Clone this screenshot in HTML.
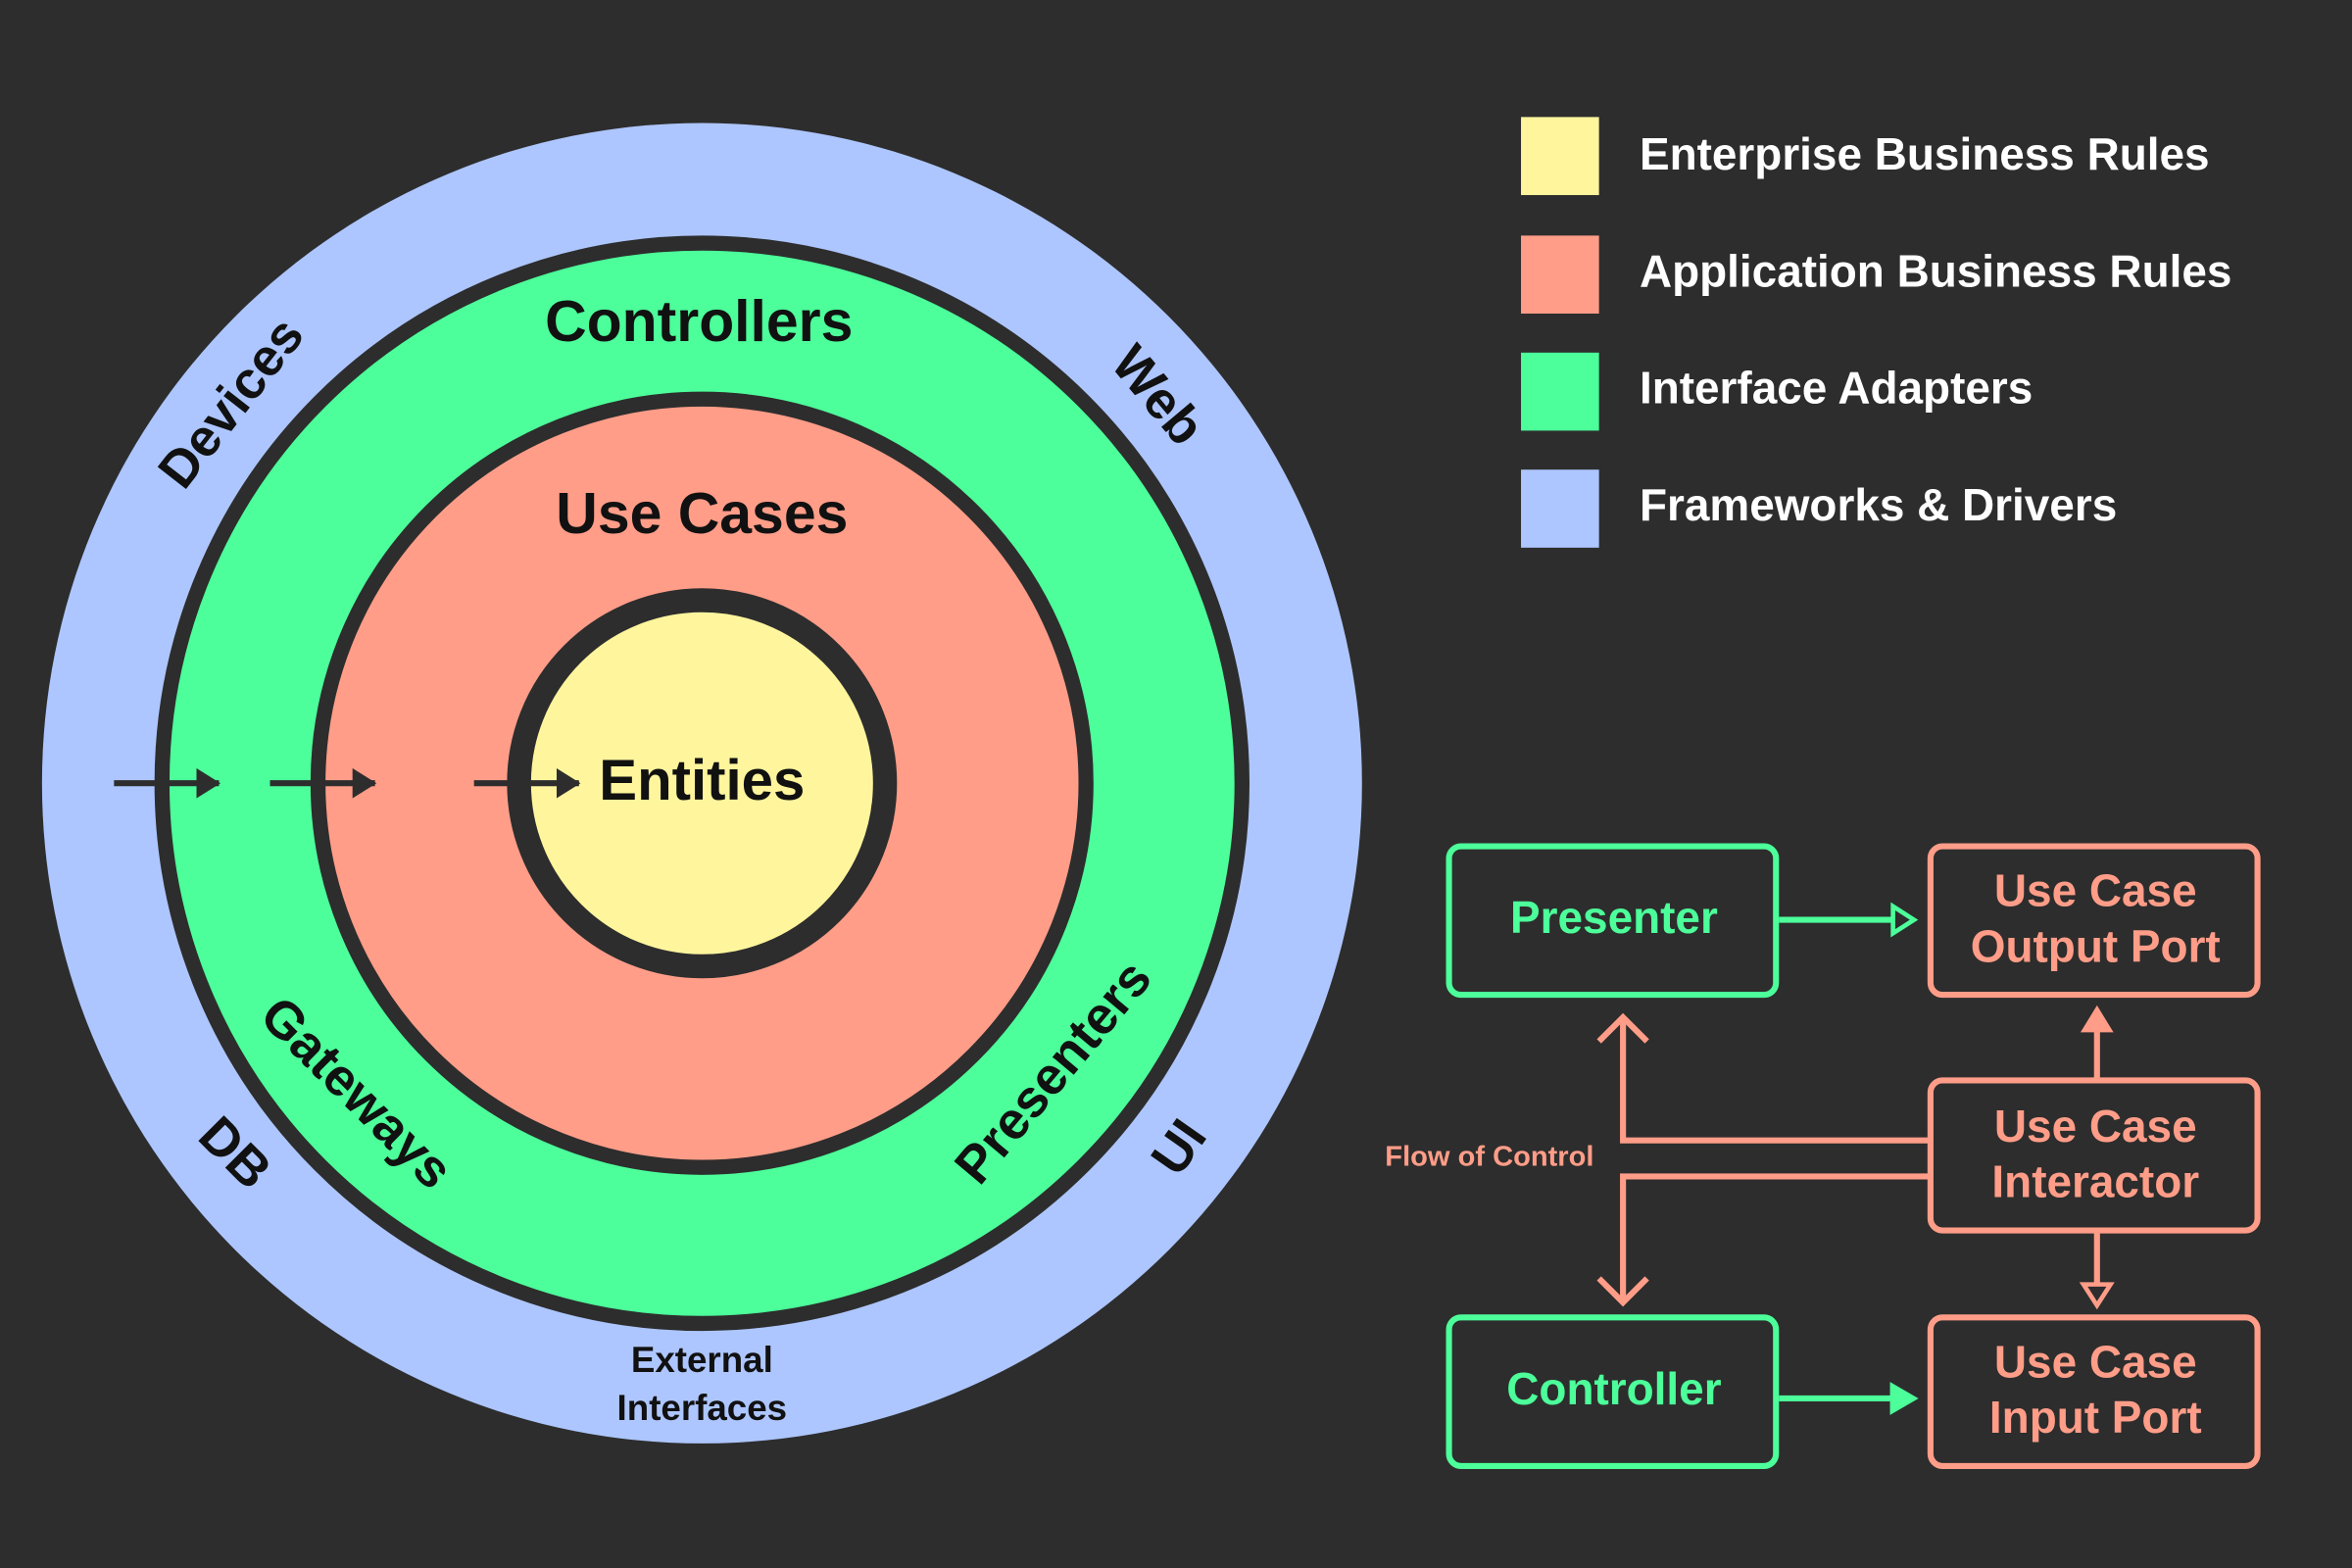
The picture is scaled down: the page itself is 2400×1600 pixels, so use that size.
<!DOCTYPE html>
<html><head><meta charset="utf-8"><style>
html,body{margin:0;padding:0;background:#2d2d2d;width:2400px;height:1600px;overflow:hidden}
svg{display:block}
text{font-family:"Liberation Sans","DejaVu Sans",sans-serif;font-weight:bold}
</style></head><body>
<svg width="2400" height="1600" viewBox="0 0 1568 1045" preserveAspectRatio="none" xmlns="http://www.w3.org/2000/svg">
<defs>
<marker id="dk" markerWidth="16" markerHeight="20" refX="15" refY="10" orient="auto" markerUnits="userSpaceOnUse"><path d="M0,0 L16,10 L0,20 Z" fill="#2d2d2d"/></marker>
</defs>
<rect width="1568" height="1045" fill="#2d2d2d"/>
<circle cx="468" cy="522" r="440" fill="#adc6ff"/>
<circle cx="468" cy="522" r="360" fill="#4cff9a" stroke="#2d2d2d" stroke-width="10"/>
<circle cx="468" cy="522" r="256" fill="#ff9d88" stroke="#2d2d2d" stroke-width="10"/>
<circle cx="468" cy="522" r="122" fill="#fff59d" stroke="#2d2d2d" stroke-width="16"/>
<g fill="#111" text-anchor="middle" dominant-baseline="middle">
<text x="466" y="217" font-size="38.5">Controllers</text>
<text x="468" y="345" font-size="38.5">Use Cases</text>
<text x="468" y="523" font-size="38">Entities</text>
<text x="468" y="908" font-size="24">External</text>
<text x="468" y="940" font-size="24">Interfaces</text>
<text font-size="35" transform="translate(156,270) rotate(-52)">Devices</text>
<text font-size="35" transform="translate(770,265) rotate(50)">Web</text>
<text font-size="35" transform="translate(236,730) rotate(45)">Gateways</text>
<text font-size="35" transform="translate(704,716) rotate(-50)">Presenters</text>
<text font-size="35" transform="translate(155,770) rotate(45)">DB</text>
<text font-size="35" transform="translate(788,766) rotate(-55)">UI</text>
</g>
<g stroke="#2d2d2d" stroke-width="4" marker-end="url(#dk)">
<line x1="76" y1="522" x2="146" y2="522"/>
<line x1="180" y1="522" x2="250" y2="522"/>
<line x1="316" y1="522" x2="386" y2="522"/>
</g>
<rect x="1014" y="78" width="52" height="52" fill="#fff59d"/>
<rect x="1014" y="157" width="52" height="52" fill="#ff9d88"/>
<rect x="1014" y="235" width="52" height="52" fill="#4cff9a"/>
<rect x="1014" y="313" width="52" height="52" fill="#adc6ff"/>
<g fill="#fff" font-size="30" dominant-baseline="middle">
<text x="1093" y="105">Enterprise Business Rules</text>
<text x="1093" y="183">Application Business Rules</text>
<text x="1093" y="261">Interface Adapters</text>
<text x="1093" y="339">Frameworks &amp; Drivers</text>
</g>
<g fill="none" stroke-width="4">
<rect x="966" y="564" width="218" height="99" rx="8" stroke="#4cff9a"/>
<rect x="966" y="878" width="218" height="99" rx="8" stroke="#4cff9a"/>
<rect x="1287" y="564" width="218" height="99" rx="8" stroke="#ff9d88"/>
<rect x="1287" y="720" width="218" height="100" rx="8" stroke="#ff9d88"/>
<rect x="1287" y="878" width="218" height="99" rx="8" stroke="#ff9d88"/>
<line x1="1186" y1="613" x2="1262" y2="613" stroke="#4cff9a"/>
<path d="M1262,604 L1276,613 L1262,622 Z" stroke="#4cff9a" stroke-width="3"/>
<line x1="1186" y1="932" x2="1262" y2="932" stroke="#4cff9a"/>
<line x1="1398" y1="720" x2="1398" y2="686" stroke="#ff9d88"/>
<line x1="1398" y1="820" x2="1398" y2="856" stroke="#ff9d88"/>
<path d="M1389,856 L1398,870 L1407,856 Z" stroke="#ff9d88" stroke-width="3"/>
<path d="M1287,760 L1082,760 L1082,680" stroke="#ff9d88"/>
<path d="M1066,694 L1082,678 L1098,694" stroke="#ff9d88"/>
<path d="M1287,784 L1082,784 L1082,866" stroke="#ff9d88"/>
<path d="M1066,852 L1082,868 L1098,852" stroke="#ff9d88"/>
</g>
<path d="M1260,921 L1279,932 L1260,943 Z" fill="#4cff9a"/>
<path d="M1387,688 L1398,670 L1409,688 Z" fill="#ff9d88"/>
<g font-size="30" text-anchor="middle" dominant-baseline="middle">
<text x="1076" y="614" fill="#4cff9a">Presenter</text>
<text x="1076" y="928" fill="#4cff9a">Controller</text>
<text x="1397" y="596" fill="#ff9d88">Use Case</text>
<text x="1397" y="633" fill="#ff9d88">Output Port</text>
<text x="1397" y="753" fill="#ff9d88">Use Case</text>
<text x="1397" y="790" fill="#ff9d88">Interactor</text>
<text x="1397" y="910" fill="#ff9d88">Use Case</text>
<text x="1397" y="947" fill="#ff9d88">Input Port</text>
<text x="993" y="772" font-size="19" fill="#ff9d88">Flow of Control</text>
</g>
</svg>
</body></html>
